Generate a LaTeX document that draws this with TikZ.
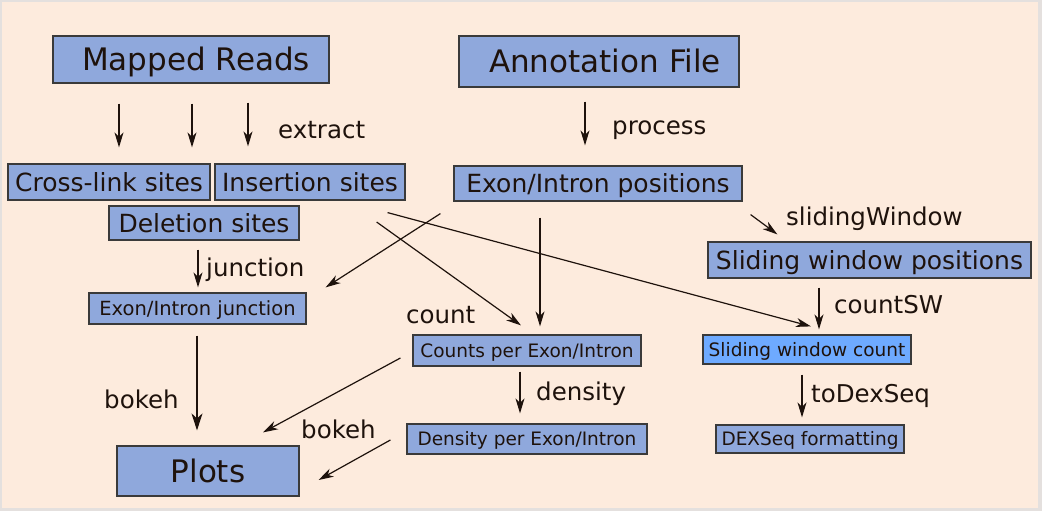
\documentclass[tikz,border=0pt]{standalone}
\usepackage{fontspec}
\setmainfont{DejaVu Sans}
\usetikzlibrary{arrows.meta}
\definecolor{bgpeach}{RGB}{253,235,221}
\definecolor{framegray}{RGB}{228,224,222}
\definecolor{boxblue}{RGB}{143,168,220}
\definecolor{brightblue}{RGB}{110,170,255}
\definecolor{ink}{RGB}{30,18,12}
\definecolor{edge}{RGB}{58,58,58}
\newcommand{\fs}[1]{\fontsize{#1}{#1}\selectfont}
\tikzset{
  box/.style={draw=edge, line width=1.2pt, fill=boxblue, text=ink,
    inner sep=0pt, text depth=0pt, align=center},
  bigbox/.style={box, font=\fs{31}, text height=22.6pt},
  midbox/.style={box, font=\fs{25}, text height=18.2pt},
  smallbox/.style={box, font=\fs{18.5}, text height=13.5pt},
  juncbox/.style={box, font=\fs{19.5}, text height=14.2pt},
  lbl/.style={anchor=base west, inner sep=0pt, text=ink, font=\fs{24.5}},
  arr/.style={draw=ink, line width=1.2pt,
    -{Stealth[length=15pt, width=9pt, inset=4.5pt]}},
  bigarr/.style={arr, -{Stealth[length=17pt, width=11pt, inset=5pt]}},
  boxsize/.style n args={2}{minimum width=#1, minimum height=#2}
}
\begin{document}
\begin{tikzpicture}[x=1pt, y=-1pt]
  % page and frame
  \useasboundingbox (0,0) rectangle (1042,511);
  \fill[framegray] (0,0) rectangle (1042,511);
  \fill[bgpeach] (2,2) rectangle (1038,508);

  % boxes
  \node[bigbox, boxsize={276pt}{47pt}] (mapped) at (191,59.5) {\hspace*{10pt}Mapped Reads};
  \node[bigbox, boxsize={280pt}{51pt}] (annot) at (599,61.5) {\hspace*{12pt}Annotation File};
  \node[midbox, boxsize={202pt}{36pt}] (xlink) at (109,182) {Cross-link sites};
  \node[midbox, boxsize={190pt}{36pt}] (ins) at (310,182) {Insertion sites};
  \node[midbox, boxsize={190pt}{34pt}] (del) at (204,223) {Deletion sites};
  \node[midbox, boxsize={288pt}{35pt}] (exonpos) at (598,183.5) {Exon/Intron positions};
  \node[juncbox, boxsize={217pt}{31pt}] (junc) at (197.5,308.5) {Exon/Intron junction};
  \node[smallbox, boxsize={228pt}{31pt}] (counts) at (527,350.5) {Counts per Exon/Intron};
  \node[smallbox, boxsize={240pt}{30pt}] (density) at (527,439) {Density per Exon/Intron};
  \node[bigbox, boxsize={182pt}{50pt}] (plots) at (208,471) {Plots};
  \node[midbox, boxsize={323pt}{36pt}] (swpos) at (869.5,260) {Sliding window positions};
  \node[smallbox, fill=brightblue, boxsize={208pt}{29pt}] (swcount) at (807,349.5) {Sliding window count};
  \node[smallbox, boxsize={188pt}{28pt}] (dexseq) at (810,439) {DEXSeq formatting};

  % step labels
  \node[lbl] (lextract) at (278,138) {extract};
  \node[lbl] (lprocess) at (612,135) {process};
  \node[lbl] (lsliding) at (786,225) {slidingWindow};
  \node[lbl] (ljunction) at (206,276) {junction};
  \node[lbl] (lcount) at (406,323) {count};
  \node[lbl] (lcountsw) at (834,313) {countSW};
  \node[lbl] (ldensity) at (536,400) {density};
  \node[lbl] (ltodex) at (811,402) {toDexSeq};
  \node[lbl] (lbokehA) at (104,408) {bokeh};
  \node[lbl] (lbokehB) at (301,438) {bokeh};

  % extraction from the mapped reads
  \draw[arr] ([xshift=-72pt,yshift=-20pt]mapped.south) -- ([xshift=10pt,yshift=16pt]xlink.north);
  \draw[arr] ([xshift=1pt,yshift=-20pt]mapped.south) -- ([xshift=-12pt,yshift=58pt]del.north);
  \draw[arr] ([xshift=57pt,yshift=-19pt]mapped.south) -- ([xshift=-62pt,yshift=17pt]ins.north);

  % annotation processing
  \draw[arr] ([xshift=-14pt,yshift=-14pt]annot.south) -- ([xshift=-13pt,yshift=20pt]exonpos.north);
  \draw[arr] ([xshift=8pt,yshift=-13pt]exonpos.south east) -- ([xshift=70pt,yshift=7pt]swpos.north west);

  % junctions and counting
  \draw[arr] ([xshift=-6pt,yshift=-9pt]del.south) -- ([xshift=0.5pt,yshift=5pt]junc.north);
  \draw[arr] ([xshift=-13pt,yshift=-12pt]exonpos.south west) -- ([xshift=19pt,yshift=5pt]junc.north east);
  \draw[arr] ([xshift=77pt,yshift=1pt]del.east) -- ([xshift=-6pt,yshift=9pt]counts.north);
  \draw[arr] ([xshift=-18pt,yshift=-12pt]ins.south east) -- ([xshift=4pt,yshift=8pt]swcount.north);
  \draw[arr] ([xshift=-58pt,yshift=-16pt]exonpos.south) -- ([xshift=13pt,yshift=8pt]counts.north);
  \draw[arr] ([xshift=-50.5pt,yshift=-9pt]swpos.south) -- ([xshift=12pt,yshift=5pt]swcount.north);
  \draw[arr] ([xshift=-7pt,yshift=-5pt]counts.south) -- ([xshift=-7pt,yshift=10pt]density.north);
  \draw[arr] ([xshift=-5pt,yshift=-10pt]swcount.south) -- ([xshift=-8pt,yshift=7pt]dexseq.north);

  % plotting
  \draw[bigarr] ([xshift=-0.5pt,yshift=-11pt]junc.south) -- ([xshift=-11pt,yshift=15pt]plots.north);
  \draw[arr] ([xshift=-12pt,yshift=-7.5pt]counts.west) -- ([xshift=55pt,yshift=13pt]plots.north);
  \draw[arr] ([xshift=-16pt,yshift=-1pt]density.west) -- ([xshift=19pt,yshift=-9pt]plots.east);
\end{tikzpicture}
\end{document}
